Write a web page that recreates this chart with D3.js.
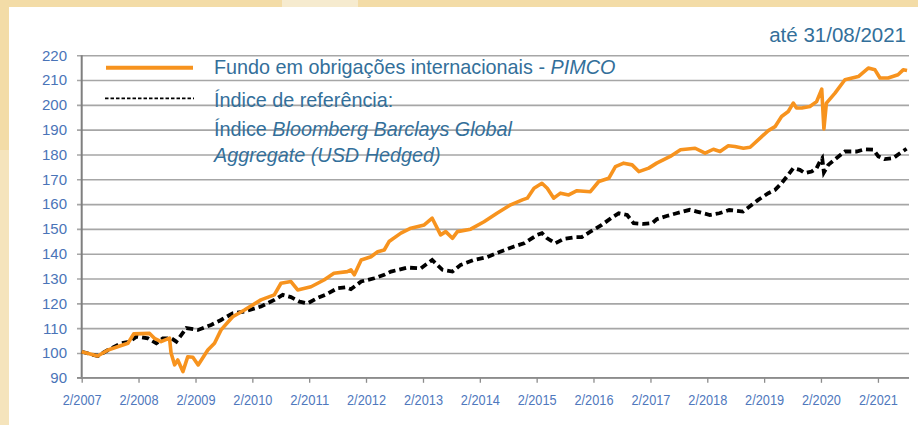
<!DOCTYPE html>
<html>
<head>
<meta charset="utf-8">
<script src="https://cdn.jsdelivr.net/npm/d3@7"></script>
<style>
  body { margin: 0; background: #fff; }
  svg { display: block; font-family: "Liberation Sans", Arial, sans-serif; }
</style>
</head>
<body>
<svg id="chart" width="918" height="425"></svg>
<script>
// Fundo PIMCO vs índice de referência (base 100, 2/2007)

const fundDates = ["2007-02-01","2007-05-15","2007-07-20","2007-11-25","2008-01-01","2008-04-12","2008-05-13","2008-06-25",
  "2008-08-18","2008-08-28","2008-09-20","2008-10-10","2008-11-12","2008-12-13","2009-01-15","2009-02-18","2009-04-21",
  "2009-06-03","2009-07-15","2009-09-28","2009-12-12","2010-03-28","2010-06-22","2010-08-04","2010-10-07","2010-11-19",
  "2011-02-13","2011-05-07","2011-07-10","2011-10-04","2011-10-27","2011-11-18","2012-01-01","2012-03-04","2012-04-16",
  "2012-05-28","2012-06-28","2012-09-12","2012-11-15","2013-02-09","2013-04-01","2013-05-25","2013-06-27","2013-08-09",
  "2013-09-10","2013-12-04","2014-02-28","2014-05-22","2014-08-18","2014-11-01","2014-12-03","2015-01-15","2015-03-07",
  "2015-04-10","2015-05-22","2015-07-04","2015-08-26","2015-10-18","2016-01-12","2016-03-06","2016-05-09","2016-06-21",
  "2016-08-13","2016-10-06","2016-11-18","2017-01-21","2017-03-13","2017-06-08","2017-08-13","2017-11-15","2018-01-18",
  "2018-03-12","2018-04-24","2018-06-16","2018-07-28","2018-09-21","2018-11-03","2019-01-06","2019-02-28","2019-04-12",
  "2019-05-24","2019-07-06","2019-08-07","2019-08-28","2019-10-01","2019-11-22","2020-01-04","2020-02-06","2020-02-20",
  "2020-03-07","2020-05-01","2020-07-04","2020-09-28","2020-12-01","2021-01-13","2021-02-14","2021-04-07","2021-06-10",
  "2021-07-13","2021-08-07"];
const fundValues = [100.5,98.8,101.2,103.9,107.7,107.9,105.9,104.6,
  106,100,95.2,97.2,92.5,98.5,98.3,95.2,101.2,
  103.9,109.3,114.6,117.3,121.4,123.4,128.1,128.8,125.4,
  126.7,129.4,132.1,132.8,133.5,131.5,137.5,138.8,140.8,
  141.5,144.9,148.3,150.3,151.6,154.3,147.6,148.9,146.2,
  148.9,149.9,152.9,156.3,159.7,161.7,162.4,166.4,168.4,
  166.4,162.4,164.4,163.7,165.4,165,169.1,170.4,175.1,
  176.5,175.8,173.1,174.5,176.5,179.2,181.9,182.5,180.5,
  182.1,181.2,183.5,183.2,182.5,182.9,186.6,189.6,191.2,
  195.3,197.3,200.7,198.7,198.7,199.3,201.3,206.3,190.3,
  200.7,204.7,210.1,211.4,214.8,214.1,210.8,210.8,212.1,
  214.1,213.8];

const indexDates = ["2007-02-01","2007-05-15","2007-07-20","2007-10-13","2007-12-06","2008-01-18","2008-04-01","2008-05-25",
  "2008-07-06","2008-08-30","2008-10-01","2008-12-04","2009-02-18","2009-05-12","2009-07-15","2009-09-28","2009-12-12",
  "2010-03-28","2010-06-22","2010-08-15","2010-10-07","2010-12-01","2011-01-22","2011-03-25","2011-05-28","2011-08-01",
  "2011-09-24","2011-10-27","2012-01-01","2012-03-25","2012-05-28","2012-07-10","2012-10-25","2013-01-18","2013-04-01",
  "2013-06-06","2013-08-09","2013-10-01","2013-12-25","2014-03-18","2014-06-12","2014-09-09","2014-11-12","2015-02-06",
  "2015-03-07","2015-04-10","2015-06-01","2015-07-25","2015-10-07","2015-11-18","2016-01-12","2016-03-25","2016-06-01",
  "2016-07-12","2016-09-04","2016-10-16","2016-12-19","2017-02-12","2017-03-13","2017-05-16","2017-07-19","2017-10-12",
  "2017-11-25","2018-02-18","2018-04-19","2018-06-22","2018-09-18","2018-10-22","2018-12-25","2019-02-28","2019-04-12",
  "2019-05-24","2019-07-06","2019-08-07","2019-09-18","2019-10-21","2019-12-03","2020-01-04","2020-01-28","2020-02-09",
  "2020-02-20","2020-03-19","2020-05-10","2020-07-04","2020-09-17","2020-11-10","2021-01-03","2021-02-04","2021-03-16",
  "2021-05-10","2021-06-22","2021-08-04"];
const indexValues = [100.5,98.8,101.2,103.9,104.6,106.6,105.9,103.9,
  105.9,105.9,104.6,110,109.3,111.3,113.3,116,116.7,
  118.7,121.4,123.4,122.5,120.7,120,122.1,123.8,126.1,
  126.5,125.7,128.8,130.1,131.5,132.8,134.4,134.1,137.5,
  133.5,132.8,135.5,137.5,138.6,140.8,142.9,144.2,147.6,
  148.3,146.2,144.2,146,146.7,146.7,148.9,151.6,154.7,
  156.3,155.6,152.3,152,152.3,153.9,155.2,156.3,157.7,
  157,155.6,156.3,157.6,157,158.6,161.7,164.4,165.7,
  168.4,171.8,174.5,173.8,172.5,173.1,174.5,177.5,178.5,
  172.8,175.8,178.5,181.2,181.2,182.1,181.9,179.2,178.1,
  178.5,180.5,182.3];

const yTicks = [90,100,110,120,130,140,150,160,170,180,190,200,210,220];
const xTickYears = [2007,2008,2009,2010,2011,2012,2013,2014,2015,2016,2017,2018,2019,2020,2021];

const svg = d3.select("#chart");
const parse = d3.timeParse("%Y-%m-%d");

// fundo bege
svg.append("rect").attr("x",0).attr("y",0).attr("width",918).attr("height",425).attr("fill","#f3dca7");
svg.append("rect").attr("x",282).attr("y",0).attr("width",76).attr("height",8).attr("fill","#f6ebcf");
svg.append("rect").attr("x",0).attr("y",150).attr("width",9).attr("height",275).attr("fill","#f5e4bc");
svg.append("rect").attr("x",9).attr("y",7).attr("width",909).attr("height",418).attr("fill","#ffffff");

const x = d3.scaleTime()
  .domain([new Date(2007,1,1), new Date(2021,7,15)])
  .range([81.7, 908.3]);
const y = d3.scaleLinear()
  .domain([90, 220])
  .range([377.8, 55.2]);

// grelha horizontal
svg.append("g")
  .attr("transform","translate(909,0)")
  .call(d3.axisLeft(y).tickValues(yTicks).tickSize(832).tickFormat(""))
  .call(g => g.select(".domain").remove())
  .call(g => g.selectAll("line").attr("stroke","#a6a6a6").attr("stroke-width",1.6));

// rótulos eixo y
svg.append("g")
  .selectAll("text")
  .data(yTicks)
  .enter()
  .append("text")
  .attr("x", 67)
  .attr("y", d => y(d))
  .attr("dy","0.36em")
  .attr("text-anchor","end")
  .attr("font-size","15px")
  .attr("fill","#4a74b8")
  .text(d => d);

// eixo y (linha)
svg.append("line")
  .attr("x1",81.7).attr("x2",81.7)
  .attr("y1",y(220)).attr("y2",y(90)+1)
  .attr("stroke","#7f7f7f").attr("stroke-width",2);

// eixo x
const xAxis = d3.axisBottom(x)
  .tickValues(xTickYears.map(yr => new Date(yr,1,1)))
  .tickSize(5)
  .tickFormat(d3.timeFormat("%-m/%Y"));
svg.append("g")
  .attr("transform","translate(0," + y(90) + ")")
  .call(xAxis)
  .call(g => g.select(".domain").attr("stroke","#8c8c8c").attr("stroke-width",1.6)
      .attr("d","M77,0H909"))
  .call(g => g.selectAll(".tick line").attr("stroke","#8c8c8c").attr("stroke-width",1.3))
  .call(g => g.selectAll(".tick text")
      .attr("y",17).attr("dy","0.71em")
      .attr("font-size","14.5px")
      .attr("font-family","'Liberation Sans', Arial, sans-serif")
      .attr("fill","#4f78bd")
      .attr("textLength",39)
      .attr("lengthAdjust","spacingAndGlyphs"));

// séries
const line = d3.line()
  .x(d => x(d.date))
  .y(d => y(d.value));

const indexData = indexDates.map((d,i) => ({date: parse(d), value: indexValues[i]}));
const fundData = fundDates.map((d,i) => ({date: parse(d), value: fundValues[i]}));

svg.append("path")
  .attr("d", line(indexData))
  .attr("fill","none")
  .attr("stroke","#000")
  .attr("stroke-width",3.8)
  .attr("stroke-dasharray","7,4");

svg.append("path")
  .attr("d", line(fundData))
  .attr("fill","none")
  .attr("stroke","#f7931e")
  .attr("stroke-width",3.6)
  .attr("stroke-linejoin","round");

// título
svg.append("text")
  .attr("x",906).attr("y",42)
  .attr("text-anchor","end")
  .attr("font-size","20.5px")
  .attr("fill","#336f9a")
  .text("até 31/08/2021");

// legenda
svg.append("line")
  .attr("x1",106).attr("x2",193).attr("y1",67.7).attr("y2",67.7)
  .attr("stroke","#f7931e").attr("stroke-width",4);
svg.append("line")
  .attr("x1",105).attr("x2",194).attr("y1",98.3).attr("y2",98.3)
  .attr("stroke","#000").attr("stroke-width",1.8).attr("stroke-dasharray","3.5,2");

const legendColor = "#336f9a";
const legendSize = "19.8px";
const t1 = svg.append("text").attr("x",214).attr("y",74).attr("font-size",legendSize).attr("fill",legendColor);
t1.append("tspan").text("Fundo em obrigações internacionais - ");
t1.append("tspan").attr("font-style","italic").text("PIMCO");

svg.append("text").attr("x",214).attr("y",107.3).attr("font-size",legendSize).attr("fill",legendColor)
  .text("Índice de referência:");
const t3 = svg.append("text").attr("x",214).attr("y",136).attr("font-size",legendSize).attr("fill",legendColor);
t3.append("tspan").text("Índice ");
t3.append("tspan").attr("font-style","italic").text("Bloomberg Barclays Global");
svg.append("text").attr("x",214).attr("y",162).attr("font-size",legendSize).attr("fill",legendColor)
  .attr("font-style","italic")
  .text("Aggregate (USD Hedged)");
</script>
</body>
</html>
